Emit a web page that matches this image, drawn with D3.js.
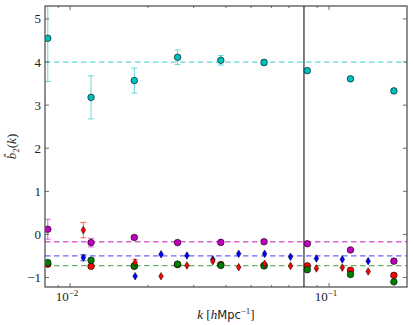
<!DOCTYPE html>
<html>
  <head>
    <style>
      body { margin: 0; background: #fff; }
      text { font-family: "Liberation Serif", "DejaVu Serif", serif; fill: #222; }
    </style>
    <script src="https://d3js.org/d3.v7.min.js"></script>
  </head>
  <body>
    <svg id="chart"></svg>

    <script>
      // bin centres of the circle series and the shifted diamond series
      const kCircle = [0.0082, 0.01205, 0.0177, 0.0260, 0.0382, 0.0561, 0.0824, 0.121, 0.178];
      const kDiamond = [0.01125, 0.01783, 0.02245, 0.02826, 0.03558, 0.04479, 0.05639, 0.07099, 0.08937, 0.1125, 0.1416];

      const cyanB = [4.55, 3.18, 3.57, 4.11, 4.04, 3.99, 3.80, 3.61, 3.33];
      const cyanErr = [1.0, 0.5, 0.29, 0.17, 0.11, 0.07, 0.03, 0.03, 0.03];
      const magentaB = [0.12, -0.19, -0.07, -0.19, -0.185, -0.17, -0.215, -0.36, -0.62];
      const magentaErr = [0.23, 0.1, 0.03, 0.03, 0.02, 0.02, 0.02, 0.02, 0.02];
      const redB = [-0.69, -0.74, -0.74, -0.70, -0.70, -0.72, -0.73, -0.83, -0.95];
      const greenB = [-0.655, -0.60, -0.73, -0.69, -0.72, -0.73, -0.82, -0.93, -1.10];

      const blueD = [-0.54, -0.97, -0.46, -0.49, -0.58, -0.45, -0.45, -0.52, -0.56, -0.58, -0.62];
      const blueDErr = [0.07, 0, 0, 0, 0, 0, 0, 0, 0, 0, 0];
      const redD = [0.10, -0.65, -0.97, -0.72, -0.62, -0.76, -0.68, -0.73, -0.79, -0.77, -0.86];
      const redDErr = [0.18, 0.07, 0, 0, 0, 0, 0, 0, 0, 0, 0];

      const refLevels = [4.0, -0.17, -0.50, -0.725];
      const refColors = ['#00bfbf', '#bf00bf', '#0000ff', '#008000'];
      const kCut = 0.08;

      const xTicks = [0.01, 0.1];
      const xTickExp = ['\u22122', '\u22121'];
      const yTicks = [-1, 0, 1, 2, 3, 4, 5];

      const W = 413, H = 325;
      const margin = { top: 6, right: 6, bottom: 38, left: 45 };
      const width = W - margin.left - margin.right;
      const height = H - margin.top - margin.bottom;

      const root = d3.select('#chart').attr('width', W).attr('height', H);
      root.append('defs').append('clipPath').attr('id', 'clip')
        .append('rect').attr('width', width).attr('height', height);

      const svg = root.append('g').attr('transform', `translate(${margin.left},${margin.top})`);

      const x = d3.scaleLog().domain([0.008, 0.2]).range([0, width]);
      const y = d3.scaleLinear().domain([-1.22, 5.3]).range([height, 0]);

      const plot = svg.append('g').attr('clip-path', 'url(#clip)');

      // vertical cut
      plot.append('line')
        .attr('x1', x(kCut)).attr('x2', x(kCut))
        .attr('y1', 0).attr('y2', height)
        .attr('stroke', '#555').attr('stroke-width', 1.5);

      // reference dashed levels
      plot.selectAll('.ref').data(refLevels).join('line')
        .attr('x1', 0).attr('x2', width)
        .attr('y1', d => y(d)).attr('y2', d => y(d))
        .attr('stroke', (d, i) => refColors[i])
        .attr('stroke-opacity', 0.6)
        .attr('stroke-width', 1.3)
        .attr('stroke-dasharray', '5.5,3.5');

      function errorBars(ks, vals, errs, color) {
        const g = plot.append('g').attr('stroke', color).attr('stroke-opacity', 0.6).attr('stroke-width', 1);
        ks.forEach((k, i) => {
          if (!errs[i]) return;
          const cx = x(k);
          const y1 = y(vals[i] + errs[i]);
          const y2 = y(vals[i] - errs[i]);
          g.append('line').attr('x1', cx).attr('x2', cx).attr('y1', y1).attr('y2', y2);
          g.append('line').attr('x1', cx - 3).attr('x2', cx + 3).attr('y1', y1).attr('y2', y1);
          g.append('line').attr('x1', cx - 3).attr('x2', cx + 3).attr('y1', y2).attr('y2', y2);
        });
      }

      function circles(ks, vals, color) {
        plot.append('g').selectAll('circle').data(vals).join('circle')
          .attr('cx', (d, i) => x(ks[i]))
          .attr('cy', d => y(d))
          .attr('r', 3.3)
          .attr('fill', color)
          .attr('stroke', '#000')
          .attr('stroke-width', 0.6);
      }

      function diamonds(ks, vals, color) {
        plot.append('g').selectAll('path').data(vals).join('path')
          .attr('transform', (d, i) => `translate(${x(ks[i])},${y(d)})`)
          .attr('d', 'M0,-3.8L2.3,0L0,3.8L-2.3,0Z')
          .attr('fill', color)
          .attr('stroke', '#000')
          .attr('stroke-width', 0.5);
      }

      errorBars(kCircle, cyanB, cyanErr, '#00bfbf');
      errorBars(kCircle, magentaB, magentaErr, '#bf00bf');
      errorBars(kDiamond, blueD, blueDErr, '#0000ff');
      errorBars(kDiamond, redD, redDErr, '#ff0000');

      circles(kCircle, cyanB, '#00bfbf');
      circles(kCircle, magentaB, '#bf00bf');
      diamonds(kDiamond, blueD, '#0000ff');
      circles(kCircle, redB, '#ff0000');
      circles(kCircle, greenB, '#008000');
      diamonds(kDiamond, redD, '#ff0000');

      // ticks inward on all four sides
      const minor = [];
      for (let e = -3; e <= -1; e++) {
        for (let m = 2; m <= 9; m++) {
          const v = m * Math.pow(10, e);
          if (v > 0.008 && v < 0.2) minor.push(v);
        }
      }
      const tickG = svg.append('g').attr('stroke', '#444').attr('stroke-width', 0.8);
      [0, height].forEach(base => {
        const dir = base === 0 ? 1 : -1;
        xTicks.forEach(t => tickG.append('line')
          .attr('x1', x(t)).attr('x2', x(t)).attr('y1', base).attr('y2', base + dir * 4));
        minor.forEach(t => tickG.append('line')
          .attr('x1', x(t)).attr('x2', x(t)).attr('y1', base).attr('y2', base + dir * 2));
      });
      [0, width].forEach(base => {
        const dir = base === 0 ? 1 : -1;
        yTicks.forEach(t => tickG.append('line')
          .attr('x1', base).attr('x2', base + dir * 4).attr('y1', y(t)).attr('y2', y(t)));
      });

      // frame
      svg.append('rect')
        .attr('width', width).attr('height', height)
        .attr('fill', 'none').attr('stroke', '#555').attr('stroke-width', 1.3);

      // y tick labels
      svg.selectAll('.ylab').data(yTicks).join('text')
        .attr('x', -4).attr('y', d => y(d) + 4.5)
        .attr('text-anchor', 'end')
        .attr('font-size', 13)
        .text(d => d < 0 ? '\u2212' + Math.abs(d) : d);

      // x tick labels
      xTicks.forEach((t, i) => {
        const lab = svg.append('text')
          .attr('x', x(t) - 3).attr('y', height + 14)
          .attr('text-anchor', 'middle')
          .attr('font-size', 13);
        lab.append('tspan').text('10');
        lab.append('tspan').attr('dy', -5).attr('font-size', 9).text(xTickExp[i]);
      });

      // axis titles
      const xt = svg.append('text')
        .attr('x', 181).attr('y', height + 32)
        .attr('text-anchor', 'middle')
        .attr('font-size', 13);
      xt.append('tspan').attr('font-style', 'italic').text('k');
      xt.append('tspan').text(' [');
      xt.append('tspan').attr('font-style', 'italic').text('h');
      xt.append('tspan').attr('font-family', '"DejaVu Sans", sans-serif').attr('font-size', 11.5).text('Mpc');
      xt.append('tspan').attr('dy', -5).attr('font-size', 9).text('\u22121');
      xt.append('tspan').attr('dy', 5).text(']');

      const yt = svg.append('text')
        .attr('transform', `translate(${-29},${height / 2}) rotate(-90)`)
        .attr('text-anchor', 'middle')
        .attr('font-size', 13);
      yt.append('tspan').attr('font-style', 'italic').text('b\u0302');
      yt.append('tspan').attr('dy', 3).attr('font-size', 9).text('2');
      yt.append('tspan').attr('dy', -3).text('(');
      yt.append('tspan').attr('font-style', 'italic').text('k');
      yt.append('tspan').text(')');
    </script>
  </body>
</html>
